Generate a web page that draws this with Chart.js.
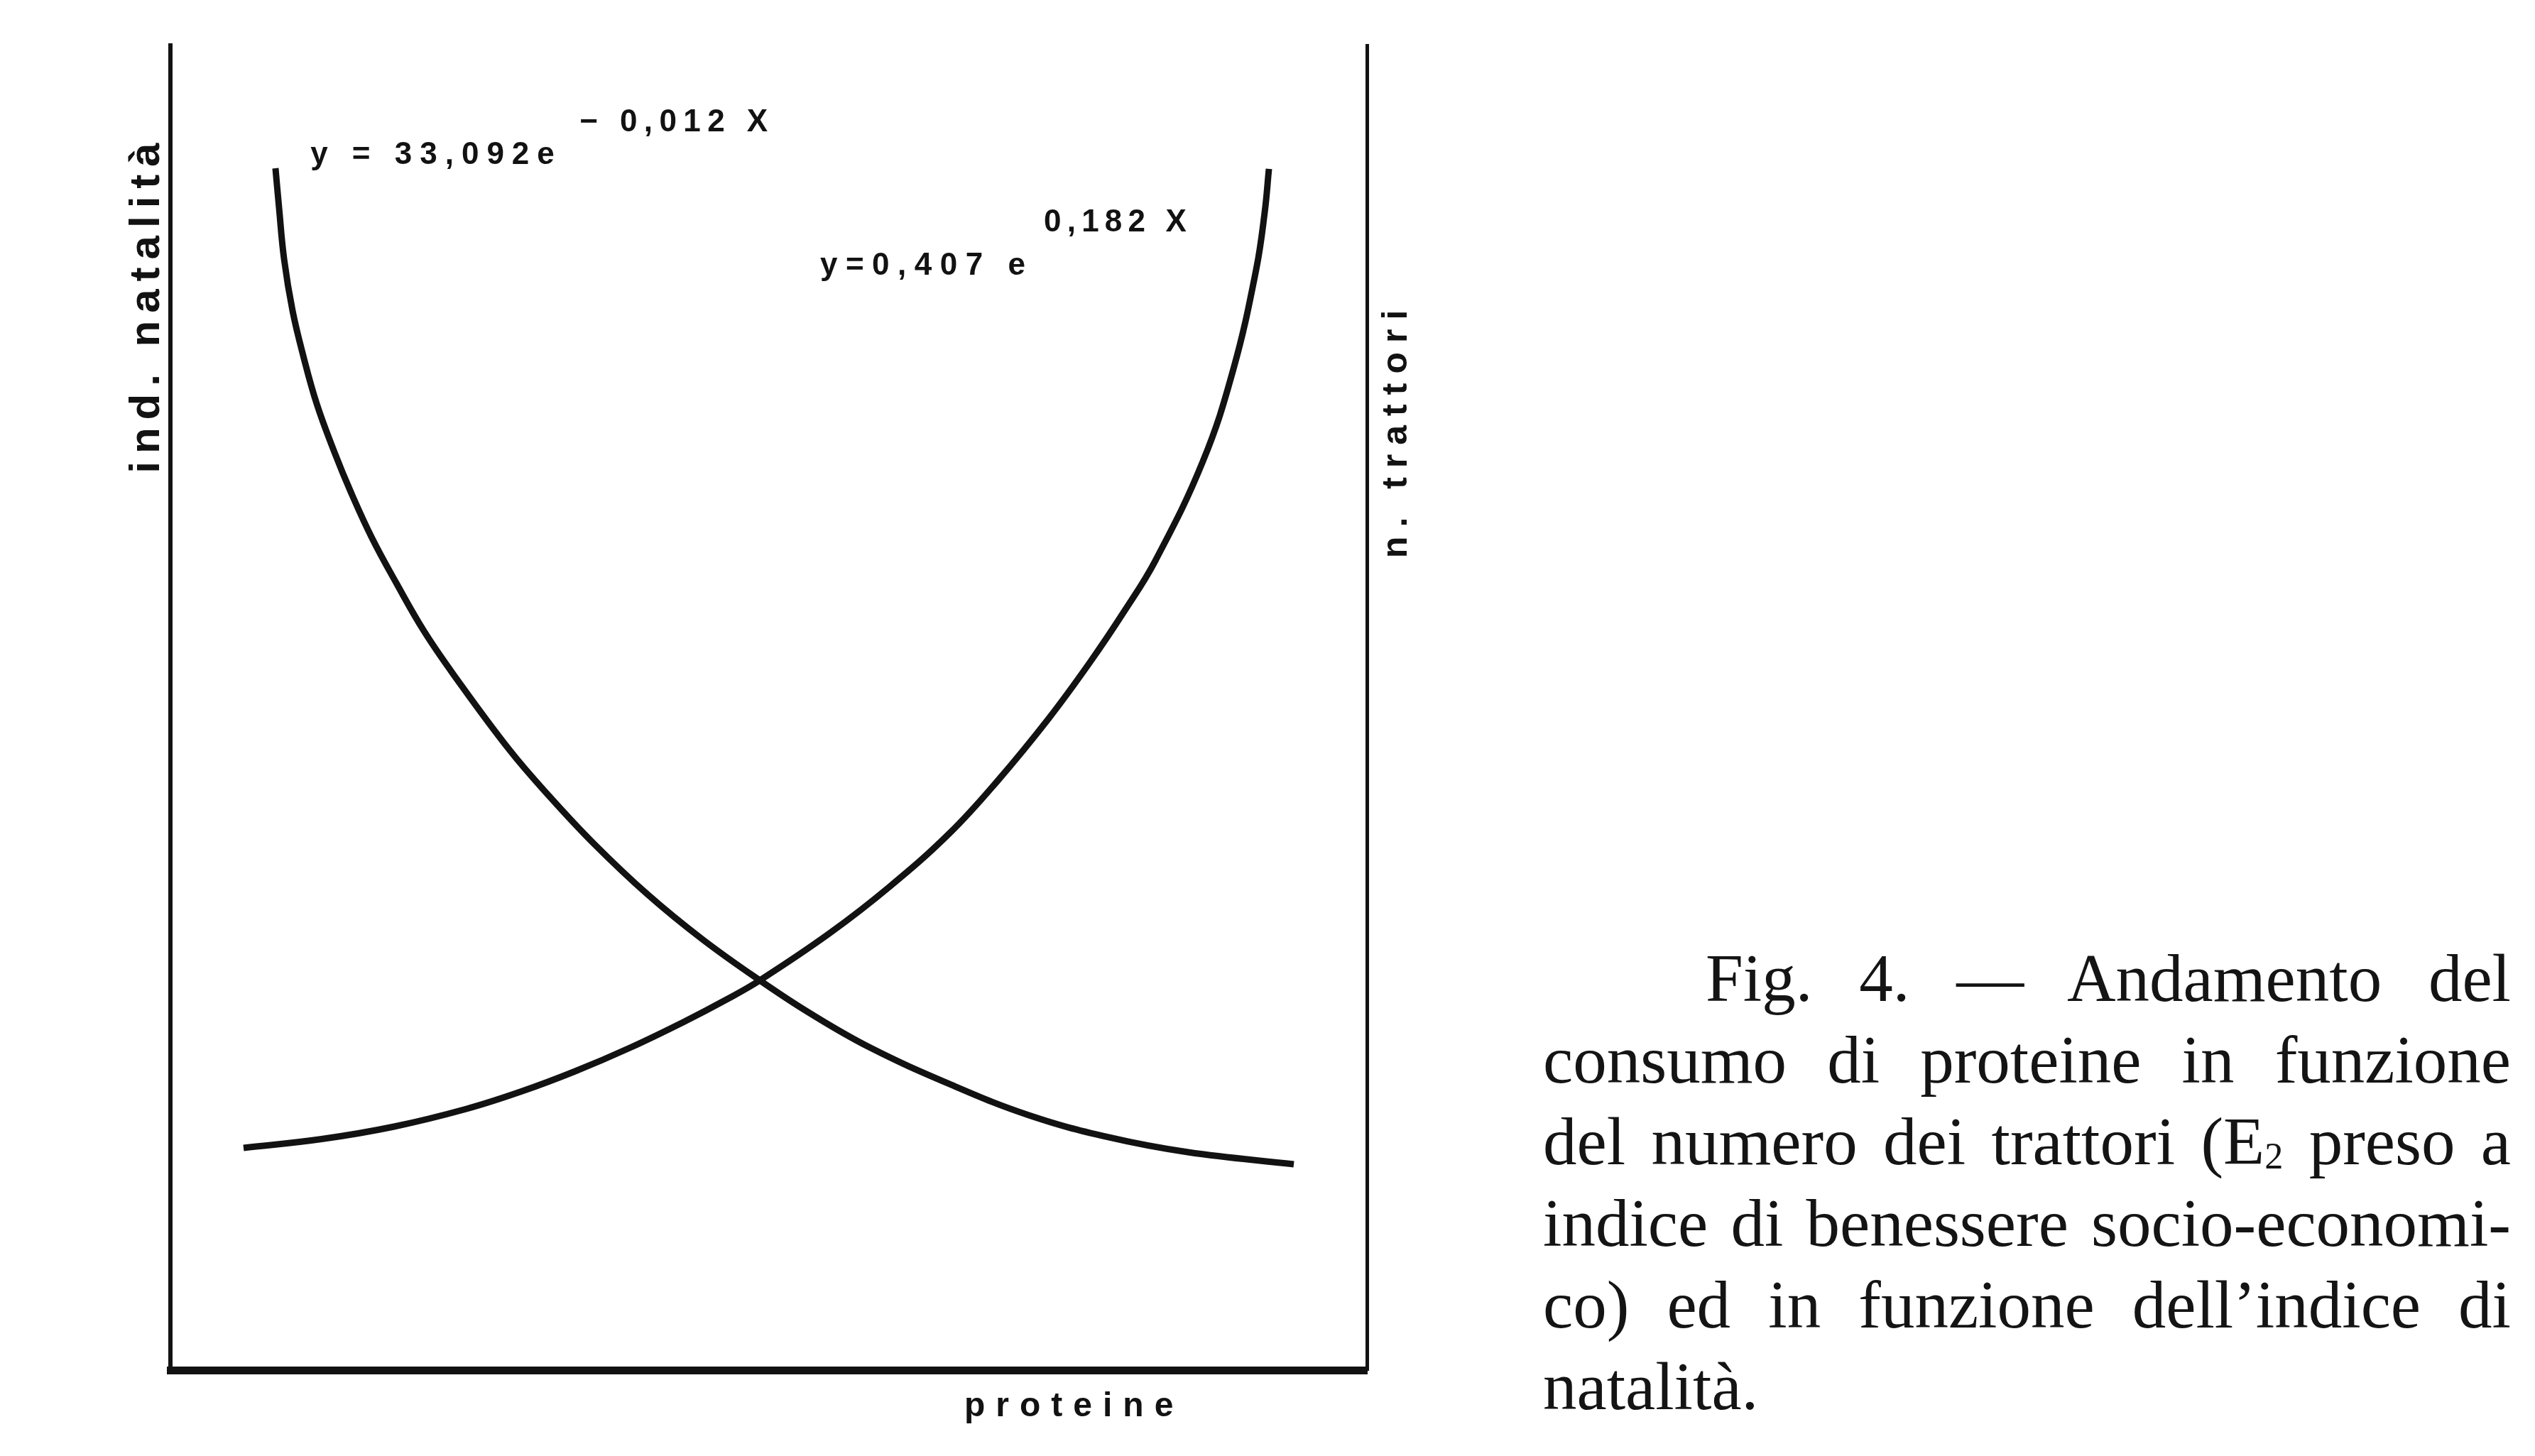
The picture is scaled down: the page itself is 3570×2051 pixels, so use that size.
<!DOCTYPE html>
<html>
<head>
<meta charset="utf-8">
<script src="https://cdn.jsdelivr.net/npm/chart.js@4.4.1/dist/chart.umd.min.js"></script>
<style>
  html, body { margin: 0; padding: 0; background: #ffffff; }
  #wrap { position: relative; width: 3570px; height: 2051px; overflow: hidden; }
  #chart { position: absolute; left: 0; top: 0; }
  .cap {
    position: absolute; left: 2173px; top: 1321px; width: 1363px;
    font-family: "Liberation Serif", "Times New Roman", serif;
    font-size: 95px; line-height: 115px; color: #141414;
  }
  .cap .l { white-space: nowrap; text-align: justify; text-align-last: justify; }
  .cap .first { padding-left: 229px; }
  .cap .last { text-align: left; text-align-last: left; }
  .cap sub { font-size: 55%; vertical-align: -0.12em; line-height: 0; }
</style>
</head>
<body>
<div id="wrap">
  <canvas id="chart" width="3570" height="2051"></canvas>
  <div class="cap">
    <div class="l first">Fig. 4. — Andamento del</div>
    <div class="l">consumo di proteine in funzione</div>
    <div class="l">del numero dei trattori (E<sub>2</sub> preso a</div>
    <div class="l">indice di benessere socio-economi-</div>
    <div class="l">co) ed in funzione dell’indice di</div>
    <div class="l last">natalità.</div>
  </div>
</div>
<script>
// Birth-rate index against protein consumption (falling curve, left axis)
const proteineNatalita = [8.78, 9.08, 9.50, 10.21, 11.10, 12.23, 13.71, 15.13, 16.85, 18.87, 21.19, 23.74, 28.37, 31.69, 35.37, 39.88, 44.45, 49.26, 53.41, 58.40, 65.10, 71.75, 78.40, 85.04, 93.89];
const indNatalita      = [90.73, 87.73, 83.87, 79.96, 76.58, 72.94, 69.29, 66.18, 62.81, 59.43, 55.79, 52.41, 46.78, 43.30, 39.76, 35.91, 32.53, 29.42, 26.96, 24.38, 21.60, 19.24, 17.58, 16.45, 15.54];

// Number of tractors against protein consumption (rising curve, right axis)
const proteineTrattori = [6.11, 12.64, 18.69, 24.75, 29.32, 33.83, 38.40, 42.91, 46.53, 49.26, 55.07, 60.12, 65.10, 69.08, 73.41, 76.85, 79.76, 82.31, 86.29, 88.84, 90.74, 91.45, 91.81];
const nTrattori        = [16.77, 17.44, 18.38, 19.72, 21.03, 22.56, 24.33, 26.29, 28.00, 29.42, 32.96, 36.50, 40.51, 44.43, 49.20, 53.43, 57.34, 61.09, 68.60, 75.56, 83.06, 87.35, 90.68];

// Axis titles and fitted equations
const titoloX = 'proteine';
const titoloY = 'ind. natalità';
const titoloY2 = 'n. trattori';
const eqNatalita = ['y = 33,092e', '− 0,012 X'];
const eqTrattori = ['y=0,407 e', '0,182 X'];

const INK = '#121212';

function toPoints(xs, ys) {
  return xs.map((x, i) => ({ x: x, y: ys[i] }));
}

// Free text placed through the chart scales
const labels = [
  { text: eqNatalita[0], x: 11.7, y: 91.05, size: 44, spacing: 11, axis: 'y' },
  { text: eqNatalita[1], x: 34.2, y: 93.5, size: 44, spacing: 9.4, axis: 'y' },
  { text: eqTrattori[0], x: 54.3, y: 82.7, size: 44, spacing: 11.5, axis: 'y2' },
  { text: eqTrattori[1], x: 73.0, y: 85.96, size: 44, spacing: 8.2, axis: 'y2' },
  { text: titoloX, x: 66.35, y: -3.5, size: 48, spacing: 15, axis: 'y' },
  { text: titoloY, x: -0.95, y: 67.7, size: 60, spacing: 11, axis: 'y', rotate: true },
  { text: titoloY2, x: 103.3, y: 61.3, size: 50, spacing: 13, axis: 'y2', rotate: true }
];

const textPlugin = {
  id: 'freeText',
  afterDraw(chart) {
    const ctx = chart.ctx;
    const sx = chart.scales.x;
    labels.forEach(l => {
      const sy = chart.scales[l.axis];
      const px = sx.getPixelForValue(l.x);
      const py = sy.getPixelForValue(l.y);
      ctx.save();
      ctx.fillStyle = INK;
      ctx.font = 'bold ' + l.size + 'px "Liberation Sans", Arial, sans-serif';
      ctx.textAlign = 'left';
      ctx.textBaseline = 'alphabetic';
      if ('letterSpacing' in ctx) ctx.letterSpacing = l.spacing + 'px';
      ctx.translate(px, py);
      if (l.rotate) ctx.rotate(-Math.PI / 2);
      ctx.fillText(l.text, 0, 0);
      ctx.restore();
    });
  }
};

const axisBase = {
  type: 'linear', min: 0, max: 100,
  grid: { display: false, drawTicks: false },
  ticks: { display: false }
};

const curveStyle = {
  borderColor: INK, borderWidth: 9, pointRadius: 0,
  tension: 0.4, fill: false
};

new Chart(document.getElementById('chart'), {
  type: 'line',
  data: {
    datasets: [
      Object.assign({
        label: titoloY,
        data: toPoints(proteineNatalita, indNatalita),
        yAxisID: 'y'
      }, curveStyle),
      Object.assign({
        label: titoloY2,
        data: toPoints(proteineTrattori, nTrattori),
        yAxisID: 'y2'
      }, curveStyle)
    ]
  },
  options: {
    responsive: false,
    animation: false,
    devicePixelRatio: 1,
    layout: { padding: { left: 240, right: 1645, top: 64, bottom: 121 } },
    plugins: { legend: { display: false }, tooltip: { enabled: false } },
    scales: {
      x: Object.assign({}, axisBase, { position: 'bottom', border: { display: true, width: 11, color: INK } }),
      y: Object.assign({}, axisBase, { position: 'left', border: { display: true, width: 6, color: INK } }),
      y2: Object.assign({}, axisBase, { position: 'right', border: { display: true, width: 5, color: INK } })
    }
  },
  plugins: [textPlugin]
});
</script>
</body>
</html>
